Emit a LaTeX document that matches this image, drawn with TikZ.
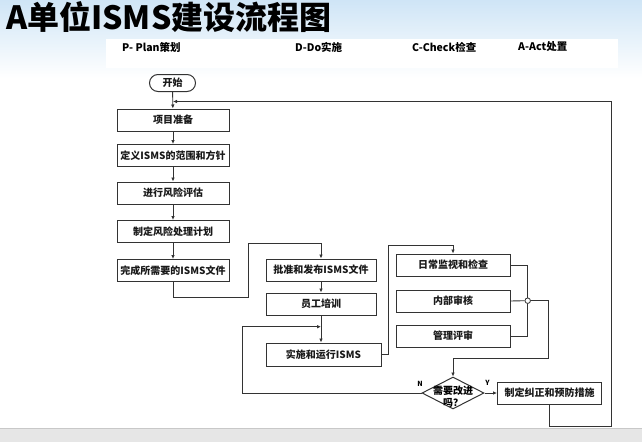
\documentclass[tikz,border=0pt]{standalone}
\usepackage{fontspec}
\setmainfont{Noto Sans CJK SC}
\usepackage{xcolor}
\usepackage{tikz}
\usetikzlibrary{arrows.meta,shapes.misc,shapes.geometric,positioning,calc}
\definecolor{cTopF}{HTML}{CFE5F6}
\definecolor{cLine}{HTML}{333333}
\definecolor{cBand}{HTML}{E6E6E6}
\definecolor{cBandL}{HTML}{C8C8C8}
\tikzset{
  flbox/.style={draw=cLine,line width=1pt,minimum height=22pt,inner sep=1pt,
      font=\bfseries\fontsize{10}{11}\selectfont,text=black!90},
  flstart/.style={flbox,rounded rectangle,minimum width=48pt,minimum height=17pt},
  fldec/.style={draw=cLine,line width=1pt,diamond,aspect=1.94,inner sep=0pt,
      minimum width=62pt,minimum height=32pt},
  fldot/.style={circle,draw=cLine,fill=white,line width=0.8pt,inner sep=0pt,
      minimum size=5.5pt},
  flarr/.style={-{Latex[length=4pt,width=3.6pt]},line width=0.9pt,draw=cLine},
  flln/.style={line width=0.9pt,draw=cLine},
  hdr/.style={font=\bfseries\fontsize{10.5}{12}\selectfont,anchor=west,inner sep=0pt},
  yn/.style={font=\bfseries\fontsize{7}{8}\selectfont,inner sep=0pt},
}
\begin{document}
\begin{tikzpicture}[x=1pt,y=-1pt]
  \useasboundingbox (0,0) rectangle (642,442);
  % background
  \fill[top color=cTopF,bottom color=white] (0,0) rectangle (642,78);
  \fill[white] (106,39) rectangle (618,68);
  \fill[cBand] (0,428) rectangle (642,442);
  \draw[cBandL,line width=1pt] (0,428) -- (642,428);

  \node[anchor=west,inner sep=0pt,font=\bfseries\fontsize{32}{33}\selectfont] (title) at (6,17)
    {A单位ISMS建设流程图};

  \node[hdr] (hP) at (122,47) {P- Plan策划};
  \node[hdr] (hD) at (295,47) {D-Do实施};
  \node[hdr] (hC) at (412,47) {C-Check检查};
  \node[hdr] (hA) at (518,47) {A-Act处置};

  % plan column
  \node[flstart] (start) at (172.5,83) {开始};
  \node[flbox,minimum width=112pt] (prep) at (173,120) {项目准备};
  \node[flbox,minimum width=112pt] (scope) at (173,155.5) {定义ISMS的范围和方针};
  \node[flbox,minimum width=112pt] (risk) at (173,193) {进行风险评估};
  \node[flbox,minimum width=112pt] (treat) at (173,231.5) {制定风险处理计划};
  \node[flbox,minimum width=112pt] (docs) at (173,270.5) {完成所需要的ISMS文件};

  % do column
  \node[flbox,minimum width=110pt] (approve) at (321,270) {批准和发布ISMS文件};
  \node[flbox,minimum width=110pt] (train) at (321,304) {员工培训};
  \node[flbox,minimum width=115pt,minimum height=23pt] (run) at (323.5,354.5) {实施和运行ISMS};

  % check column
  \node[flbox,minimum width=114pt] (monitor) at (453,265) {日常监视和检查};
  \node[flbox,minimum width=114pt] (audit) at (453,301) {内部审核};
  \node[flbox,minimum width=114pt] (review) at (453,336) {管理评审};
  \node[fldot] (jn) at (527.7,300.7) {};

  % act
  \node[fldec] (dec) at (453,393) {};
  \node[font=\bfseries\fontsize{10}{12}\selectfont,align=center,inner sep=0pt] (dectxt)
    at (453,397) {需要改进\\吗？};
  \node[flbox,minimum width=104pt] (fix) at (549.5,393) {制定纠正和预防措施};

  \coordinate (loopBR) at (611,426);
  \coordinate (loopTR) at (611,101.5);
  \coordinate (loopTL) at (173,101.5);
  \coordinate (j1) at (248,297);
  \coordinate (j2) at (248,243);
  \coordinate (j3) at (388,245);
  \coordinate (j4) at (548,358);
  \coordinate (j5) at (242.7,326.7);

  \draw[flarr] (start) -- (prep);
  \draw[flarr] (prep) -- (scope);
  \draw[flarr] (scope) -- (risk);
  \draw[flarr] (risk) -- (treat);
  \draw[flarr] (treat) -- (docs);
  \draw[flarr] (docs.south) |- (j1) -- (j2) -| (approve.north);
  \draw[flarr] (approve) -- (train);
  \draw[flarr] (train.south) -- (train.south |- run.north);
  \draw[flarr] (run.east) -| (j3) -| (monitor.north);
  \draw[flln] (monitor.east) -| (jn.north);
  \draw[flln] (audit.east) -- (jn.west);
  \draw[flln] (review.east) -| (jn.south);
  \draw[flarr] (jn.east) -| (j4) -| (dec.north);
  \draw[flarr] (dec.east) -- (fix.west);
  \draw[flarr] (dec.west) -| (j5) -- (j5 -| train.south);
  \draw[flarr] (fix.south) |- (loopBR) -- (loopTR) -- (loopTL);

  \node[yn] (lN) at (420,383.5) {N};
  \node[yn] (lY) at (487.5,383) {Y};
\end{tikzpicture}
\end{document}
